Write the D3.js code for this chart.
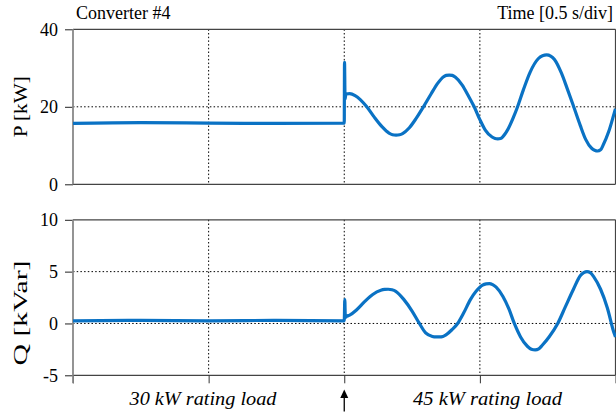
<!DOCTYPE html>
<head>
  <style>
    body { margin: 0; background: #fff; }
    svg text { font-family: "Liberation Serif", "Times New Roman", serif; fill: #000; }
  </style>
  <title>Converter #4</title>
</head>
<body>
  <script src="https://cdn.jsdelivr.net/npm/d3@7"></script>
  <script>
    // time in seconds (0.5 s/div, 4 divisions)
    var timeTicks = [0, 0.5, 1, 1.5, 2]
    var pTicks = [0, 20, 40]
    var qTicks = [-5, 0, 5, 10]
    var pGrid = [20]
    var qGrid = [0, 5]
    var timeGrid = [0.5, 1, 1.5]

    // P trace [kW]
    var pTime = [0, 0.25, 0.5, 0.75, 1.0, 1.001, 1.003, 1.006, 1.02, 1.04, 1.06, 1.083,
      1.11, 1.14, 1.165, 1.178, 1.191, 1.204, 1.215, 1.24, 1.265, 1.292, 1.32, 1.345, 1.365,
      1.376, 1.387, 1.398, 1.41, 1.435, 1.457, 1.479, 1.50, 1.52, 1.545, 1.556, 1.566, 1.576,
      1.585, 1.605, 1.622, 1.639, 1.66, 1.685, 1.715, 1.731, 1.746, 1.761, 1.775, 1.80, 1.822,
      1.846, 1.87, 1.89, 1.912, 1.923, 1.934, 1.945, 1.955, 1.975, 1.995, 2.0]
    var pValues = [15.7, 15.9, 15.8, 15.7, 15.8, 31.5, 22.0, 23.3, 23.4, 22.9, 21.8, 20.0,
      17.4, 14.8, 13.2, 12.8, 12.7, 12.8, 13.1, 14.6, 17.0, 20.0, 23.3, 26.1, 27.7,
      28.1, 28.2, 28.1, 27.6, 25.6, 22.9, 20.0, 16.7, 14.0, 12.2, 11.8, 11.7, 11.8,
      12.3, 14.4, 17.0, 20.0, 24.3, 28.9, 32.4, 33.2, 33.4, 33.1, 32.2, 28.8, 24.7,
      20.0, 15.2, 11.6, 9.3, 8.8, 8.6, 8.9, 10.2, 13.6, 18.3, 19.5]

    // Q trace [kVar]
    var qTime = [0, 0.25, 0.5, 0.75, 1.0, 1.002, 1.004, 1.01, 1.02, 1.045, 1.075, 1.105,
      1.135, 1.149, 1.162, 1.176, 1.19, 1.22, 1.25, 1.277, 1.30, 1.325, 1.338, 1.351, 1.364,
      1.375, 1.397, 1.418, 1.44, 1.465, 1.486, 1.51, 1.523, 1.535, 1.547, 1.56, 1.585, 1.607,
      1.627, 1.65, 1.675, 1.69, 1.704, 1.717, 1.73, 1.755, 1.787, 1.815, 1.845, 1.87, 1.883,
      1.895, 1.907, 1.92, 1.945, 1.97, 1.995, 2.0]
    var qValues = [0.25, 0.3, 0.25, 0.3, 0.25, 2.3, 0.6, 0.7, 0.8, 1.3, 2.1, 2.8,
      3.2, 3.28, 3.3, 3.25, 3.1, 2.3, 1.2, 0.0, -0.9, -1.25, -1.3, -1.3, -1.25,
      -1.1, -0.6, 0.0, 1.0, 2.3, 3.1, 3.7, 3.82, 3.85, 3.75, 3.5, 2.6, 1.4,
      0.0, -1.3, -2.2, -2.48, -2.55, -2.45, -2.1, -1.3, 0.0, 1.6, 3.3, 4.6, 4.9,
      5.0, 4.9, 4.5, 3.3, 1.5, -0.95, -1.3]

    var width = 616
    var height = 417
    var left = 73, right = 615.5

    var svg = d3.select("body").append("svg")
                .attr("width", width)
                .attr("height", height)

    var x = d3.scaleLinear().domain([0, 2]).range([left, right])
    var yP = d3.scaleLinear().domain([0, 40]).range([184.3, 29.3])
    var yQ = d3.scaleLinear().domain([-5, 10]).range([375.3, 219.8])

    function panel(y, ticks, grid, times, values, label, labelLen) {
      var g = svg.append("g")
      var y0 = y.range()[0], y1 = y.range()[1]

      // dotted grid
      g.selectAll(".hgrid").data(grid).enter().append("line")
        .attr("x1", left).attr("x2", right)
        .attr("y1", function (d) { return y(d) }).attr("y2", function (d) { return y(d) })
        .attr("stroke", "#000").attr("stroke-width", 1).attr("stroke-dasharray", "1.5,2.2")
      g.selectAll(".vgrid").data(timeGrid).enter().append("line")
        .attr("x1", function (d) { return x(d) }).attr("x2", function (d) { return x(d) })
        .attr("y1", y1).attr("y2", y0)
        .attr("stroke", "#000").attr("stroke-width", 1).attr("stroke-dasharray", "1.5,2.2")

      // frame
      g.append("line").attr("x1", left).attr("x2", right).attr("y1", y1).attr("y2", y1)
        .attr("stroke", "#444").attr("stroke-width", 1.2)
      g.append("line").attr("x1", left).attr("x2", right).attr("y1", y0).attr("y2", y0)
        .attr("stroke", "#444").attr("stroke-width", 1.2)
      g.append("line").attr("x1", right).attr("x2", right).attr("y1", y1).attr("y2", y0)
        .attr("stroke", "#444").attr("stroke-width", 1.2)

      // y axis
      var ax = g.append("g")
        .attr("transform", "translate(" + left + ",0)")
        .call(d3.axisLeft(y).tickValues(ticks).tickSize(8).tickPadding(7)
              .tickFormat(function (d) { return d < 0 ? "-" + Math.abs(d) : d }))
      ax.attr("font-family", null)
      ax.select(".domain").remove()
      ax.selectAll(".tick line").attr("stroke", "#222")
      ax.selectAll(".tick text").style("font-size", "18px")
      g.append("line").attr("x1", left).attr("x2", left).attr("y1", y1).attr("y2", y0)
        .attr("stroke", "#888").attr("stroke-width", 1.8)

      // trace
      var pts = times.map(function (t, i) { return [t, values[i]] })
      g.append("path").datum(pts)
        .attr("fill", "none")
        .attr("stroke", "#0a72c4")
        .attr("stroke-width", 3.2)
        .attr("stroke-linejoin", "round")
        .attr("d", d3.line()
          .x(function (d) { return x(d[0]) })
          .y(function (d) { return y(d[1]) })
          .curve(d3.curveMonotoneX))

      // y label
      g.append("text")
        .attr("transform", "translate(26.5," + label.cy + ") rotate(-90)")
        .attr("text-anchor", "middle")
        .attr("textLength", labelLen)
        .attr("lengthAdjust", "spacingAndGlyphs")
        .style("font-size", "19px")
        .text(label.text)
    }

    panel(yP, pTicks, pGrid, pTime, pValues, {text: "P [kW]", cy: 106.8}, 61)
    panel(yQ, qTicks, qGrid, qTime, qValues, {text: "Q [kVar]", cy: 313}, 105)

    // x axis ticks below lower panel
    var xa = svg.append("g")
      .attr("transform", "translate(0," + yQ(-5) + ")")
      .call(d3.axisBottom(x).tickValues(timeTicks).tickSize(8).tickFormat(""))
    xa.select(".domain").remove()
    xa.selectAll(".tick line").attr("stroke", "#333")
    svg.append("line").attr("x1", left).attr("x2", left).attr("y1", yQ(-5)).attr("y2", yQ(-5) + 8)
      .attr("stroke", "#888").attr("stroke-width", 1.8)

    // titles
    svg.append("text").attr("x", 76).attr("y", 19).style("font-size", "18px").text("Converter #4")
    svg.append("text").attr("x", 613).attr("y", 19).attr("text-anchor", "end")
      .style("font-size", "18px").text("Time [0.5 s/div]")

    // load annotations
    svg.append("text").attr("x", 203).attr("y", 405).attr("text-anchor", "middle")
      .attr("textLength", 147).attr("lengthAdjust", "spacingAndGlyphs")
      .style("font-size", "19px").style("font-style", "italic").text("30 kW rating load")
    svg.append("text").attr("x", 487.5).attr("y", 405).attr("text-anchor", "middle")
      .attr("textLength", 149).attr("lengthAdjust", "spacingAndGlyphs")
      .style("font-size", "19px").style("font-style", "italic").text("45 kW rating load")

    // step arrow
    var ax0 = x(1)
    svg.append("line").attr("x1", ax0).attr("x2", ax0).attr("y1", 396).attr("y2", 411.5)
      .attr("stroke", "#000").attr("stroke-width", 1.3)
    svg.append("path")
      .attr("d", "M" + (ax0 - 4) + ",398 L" + ax0 + ",389.5 L" + (ax0 + 4) + ",398 Z")
      .attr("fill", "#000")
  </script>
</body>
